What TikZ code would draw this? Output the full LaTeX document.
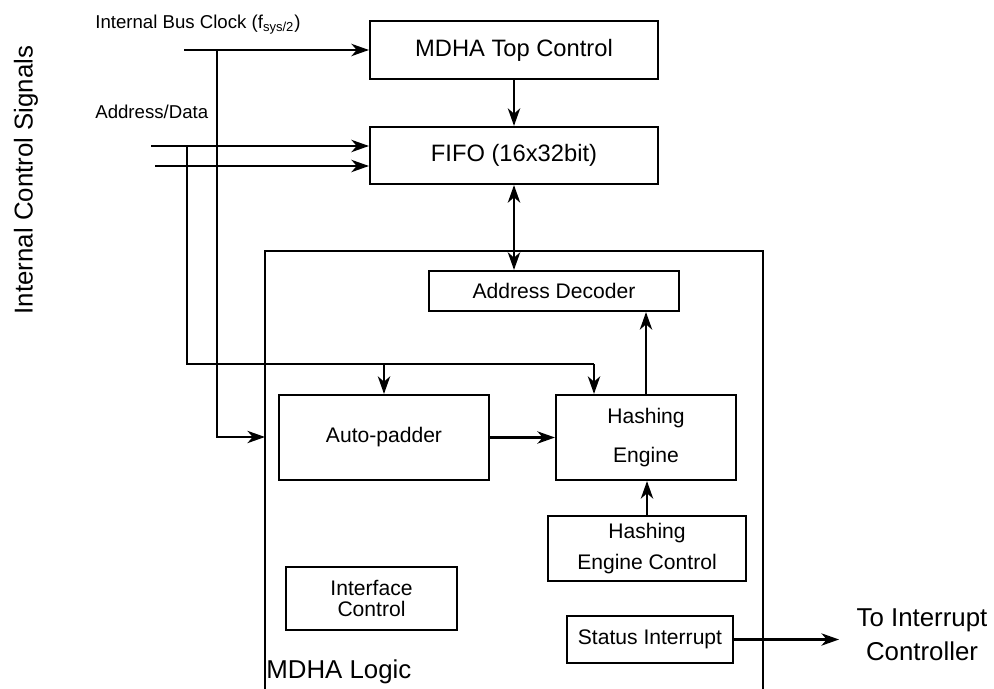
\documentclass[tikz,border=0pt]{standalone}
\usepackage{fontspec}
\setmainfont{Liberation Sans}
\usetikzlibrary{arrows.meta,calc,positioning}

\tikzset{
  >={Stealth[length=10pt,width=7pt,inset=3pt]},
  wire/.style={line width=1.2pt},
  sig/.style={wire,->},
  blk/.style={draw,line width=1.2pt,inner sep=0pt,align=center},
  bigblk/.style={blk,font=\fontsize{13.5}{16}\selectfont},
  subblk/.style={blk,font=\fontsize{12}{14}\selectfont},
  lbl/.style={inner sep=0pt,font=\fontsize{10.6}{12}\selectfont},
  biglbl/.style={inner sep=0pt,align=center,font=\fontsize{14.7}{19.3}\selectfont},
}

\begin{document}
\begin{tikzpicture}[x=0.02cm,y=-0.02cm]
\useasboundingbox (0,0) rectangle (994,689);

% MDHA logic frame, open at the bottom
\draw[wire] (265,689) -- (265,251) -- (763,251) -- (763,689);
\coordinate (lgc) at (265,437);

\node[bigblk,minimum width=5.76cm,minimum height=1.16cm] (top) at (514,50) {MDHA Top Control};
\node[bigblk,minimum width=5.76cm,minimum height=1.14cm] (fifo) at (514,155.5) {FIFO (16x32bit)};
\node[subblk,minimum width=5.0cm,minimum height=0.8cm] (adec) at (554,291) {Address Decoder};
\node[subblk,minimum width=4.2cm,minimum height=1.7cm] (pad) at (384,437.5) {Auto-padder};
\node[subblk,minimum width=3.6cm,minimum height=1.7cm] (hash) at (646,437.5)
  {Hashing\\[8pt]Engine};
\node[subblk,minimum width=3.96cm,minimum height=1.3cm] (hctl) at (647,548.5)
  {Hashing\\[4pt]Engine Control};
\node[subblk,minimum width=3.42cm,minimum height=1.26cm] (ifc) at (371.5,598.5)
  {Interface\\[-2.5pt]Control};
\node[subblk,minimum width=3.32cm,minimum height=0.94cm] (stat) at (650,639.5) {Status Interrupt};

% labels
\node[lbl,anchor=west] (clklbl) at (95,25) {Internal Bus Clock (f\textsubscript{sys/2})};
\node[lbl,anchor=west] (adlbl) at (95,112) {Address/Data};
\node[biglbl,rotate=90] (ctllbl) at (26,180) {Internal Control Signals};
\node[biglbl,anchor=west] (lgclbl) at (266,672) {MDHA Logic};
\node[biglbl] (irqlbl) at (922,635) {To Interrupt\\Controller};

% clock
\coordinate (clk) at (184,50);
\coordinate (clkv) at (217,50);
\draw[sig] (clk) -- (top.west);
\draw[sig] (clkv) |- (lgc);

% address / data
\coordinate (ad1) at (151,146);
\coordinate (ad2) at (155,166);
\coordinate (adv) at (187,146);
\coordinate (bus) at (594,364);
\draw[sig] (ad1) -- (ad1 -| fifo.west);
\draw[sig] (ad2) -- (ad2 -| fifo.west);
\draw[wire] (adv) |- (bus);
\draw[sig] (pad.north |- bus) -- (pad.north);
\draw[sig] (bus) -- (bus |- hash.north);

% data path
\draw[sig] (top) -- (fifo);
\draw[wire,<->,line width=1.6pt] (fifo.south) -- (fifo.south |- adec.north);
\draw[sig] (pad) -- (hash);
\draw[sig] (hash.north) -- (hash.north |- adec.south);
\draw[sig] (hctl.north) -- (hctl.north |- hash.south);

% interrupt out
\coordinate (irq) at (839,639.5);
\draw[sig] (stat) -- (irq);
\end{tikzpicture}
\end{document}
